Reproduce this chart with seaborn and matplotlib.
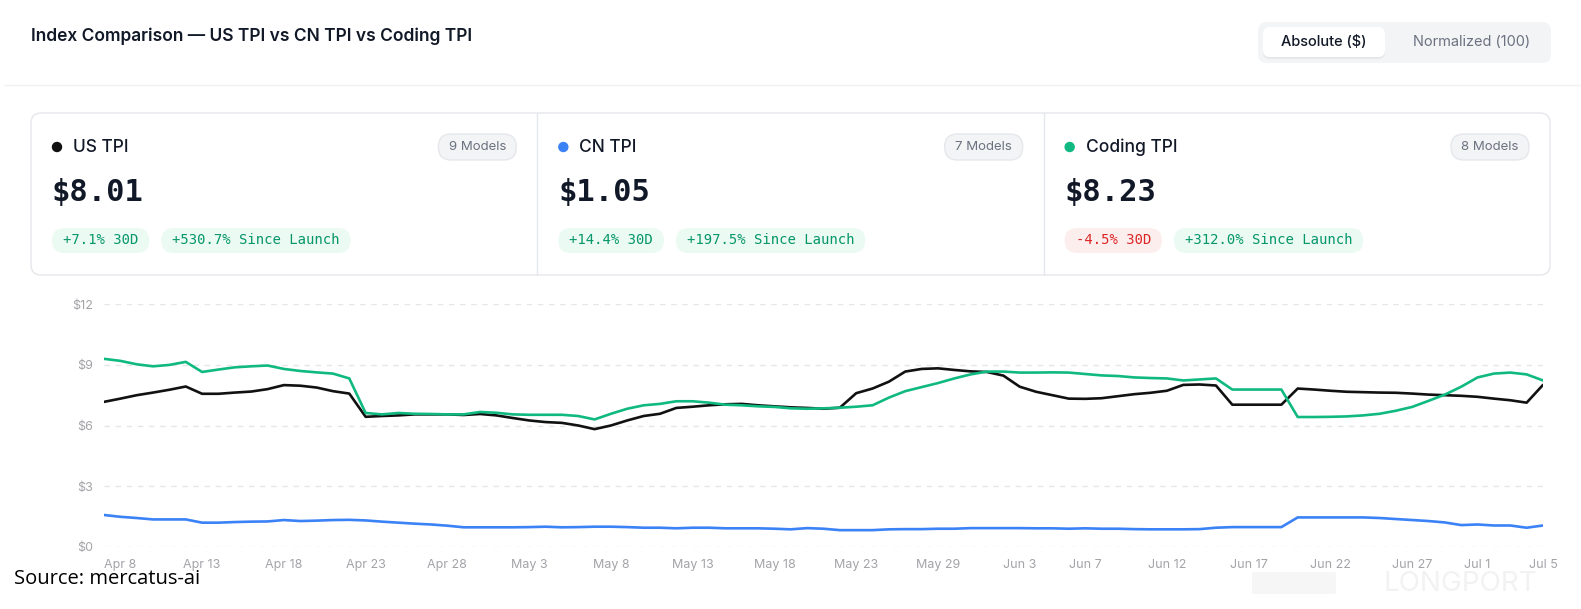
import numpy as np
import pandas as pd
import matplotlib
matplotlib.use("Agg")
import matplotlib.pyplot as plt
from matplotlib.patches import FancyBboxPatch, Circle
import seaborn as sns

# --- values (one point per listed day) ---
us_tpi = [7.17, 7.33, 7.50, 7.63, 7.77, 7.93, 7.57, 7.57, 7.63, 7.68, 7.80, 8.00, 7.97, 7.88, 7.70, 7.58,
          6.43, 6.47, 6.50, 6.55, 6.55, 6.55, 6.52,
          6.57, 6.50, 6.37, 6.25, 6.17, 6.13, 6.00, 5.82, 6.00, 6.25, 6.47, 6.58, 6.87, 6.93, 7.00, 7.05,
          7.07, 7.00, 6.95, 6.90, 6.87, 6.83,
          6.88, 7.60, 7.83, 8.17, 8.67, 8.80, 8.83, 8.75, 8.68, 8.65, 8.47, 7.92, 7.67, 7.50, 7.33, 7.32,
          7.35, 7.45, 7.55, 7.62, 7.72, 8.01,
          8.03, 7.98, 7.03, 7.03, 7.03, 7.03, 7.83, 7.78, 7.72, 7.67, 7.65, 7.63, 7.62, 7.58, 7.53, 7.50,
          7.47, 7.42, 7.33, 7.25, 7.13, 8.01]
cn_tpi = [1.57, 1.48, 1.42, 1.35, 1.35, 1.35, 1.19, 1.19, 1.22, 1.24, 1.25, 1.32, 1.27, 1.29, 1.32, 1.33,
          1.30, 1.24, 1.19, 1.14, 1.10, 1.04, 0.96,
          0.96, 0.96, 0.96, 0.97, 0.99, 0.96, 0.97, 0.99, 0.99, 0.97, 0.94, 0.94, 0.91, 0.94, 0.94, 0.91,
          0.91, 0.91, 0.89, 0.86, 0.92, 0.89,
          0.82, 0.82, 0.82, 0.86, 0.87, 0.87, 0.89, 0.89, 0.92, 0.92, 0.92, 0.92, 0.91, 0.91, 0.89, 0.91,
          0.89, 0.89, 0.87, 0.86, 0.86, 0.86,
          0.87, 0.94, 0.97, 0.97, 0.97, 0.97, 1.45, 1.45, 1.45, 1.45, 1.45, 1.42, 1.37, 1.32, 1.27, 1.20,
          1.07, 1.10, 1.05, 1.05, 0.94, 1.05]
coding_tpi = [9.30, 9.20, 9.03, 8.93, 9.00, 9.15, 8.65, 8.77, 8.88, 8.93, 8.97, 8.80, 8.70, 8.63, 8.57, 8.33,
              6.62, 6.55, 6.62, 6.58, 6.57, 6.55, 6.55,
              6.67, 6.63, 6.55, 6.53, 6.53, 6.53, 6.47, 6.30, 6.58, 6.83, 7.00, 7.07, 7.20, 7.20, 7.13, 7.03,
              7.00, 6.95, 6.92, 6.85, 6.83, 6.85,
              6.88, 6.93, 7.00, 7.38, 7.70, 7.90, 8.10, 8.33, 8.53, 8.67, 8.67, 8.62, 8.62, 8.63, 8.62, 8.55,
              8.48, 8.45, 8.38, 8.35, 8.33, 8.23,
              8.28, 8.33, 7.78, 7.78, 7.78, 7.78, 6.42, 6.42, 6.43, 6.45, 6.50, 6.58, 6.73, 6.92, 7.22, 7.53,
              7.92, 8.38, 8.57, 8.62, 8.53, 8.23]

# one day has no data point in the series
dates = pd.date_range("2025-04-07", "2025-07-05").drop(pd.Timestamp("2025-05-26"))
date_labels = [f"{d:%b} {d.day}" for d in dates]
tick_labels = ["Apr 8", "Apr 13", "Apr 18", "Apr 23", "Apr 28", "May 3", "May 8", "May 13", "May 18",
               "May 23", "May 29", "Jun 3", "Jun 7", "Jun 12", "Jun 17", "Jun 22", "Jun 27", "Jul 1", "Jul 5"]
y_ticks = [0, 3, 6, 9, 12]

series_names = ["US TPI", "CN TPI", "Coding TPI"]
series_colors = ["#111111", "#3b82f6", "#10b981"]
model_counts = ["9 Models", "7 Models", "8 Models"]
latest = ["$8.01", "$1.05", "$8.23"]
change_30d = ["+7.1% 30D", "+14.4% 30D", "-4.5% 30D"]
since_launch = ["+530.7% Since Launch", "+197.5% Since Launch", "+312.0% Since Launch"]

sns.set_style("white")
plt.rcParams["font.family"] = ["Inter", "DejaVu Sans"]

W, H = 1581, 609
fig = plt.figure(figsize=(W / 100, H / 100), dpi=100)
fig.patch.set_facecolor("white")

# pixel-space layer for the header and the cards
bg = fig.add_axes([0, 0, 1, 1])
bg.set_xlim(0, W)
bg.set_ylim(H, 0)
bg.axis("off")


def rbox(x, y, w, h, r, fc, ec="none", lw=0, z=1):
    bg.add_patch(FancyBboxPatch((x, y), w, h, boxstyle=f"round,pad=0,rounding_size={r}",
                                fc=fc, ec=ec, lw=lw, zorder=z))


bg.text(31, 36, "Index Comparison \u2014 US TPI vs CN TPI vs Coding TPI", fontsize=12.5,
        fontweight="semibold", color="#111827", va="center")

# absolute / normalized toggle
rbox(1258, 22, 293, 41, 9, "#f3f4f6")
rbox(1263, 28, 122, 31, 7, "#e5e7eb", z=2)
rbox(1263, 27, 122, 30, 7, "white", z=3)
bg.text(1324, 42, "Absolute ($)", fontsize=10.5, fontweight="medium", color="#111827",
        ha="center", va="center", zorder=4)
bg.text(1472, 42, "Normalized (100)", fontsize=10.5, color="#6b7280", ha="center", va="center")
bg.plot([4, W], [85, 85], color="#f1f1f1", lw=1)

# summary cards
rbox(31, 113, 1519, 162, 10, "white", ec="#e5e7eb", lw=1)
card_w = 1519 / 3
mono = "DejaVu Sans Mono"
char_w = 0.602 * 10 / 0.72
for i in range(3):
    left = 31 + i * card_w
    if i > 0:
        bg.plot([left, left], [113, 275], color="#e5e7eb", lw=1)
    bg.add_patch(Circle((left + 26, 147), 4.5, color=series_colors[i], zorder=3))
    bg.text(left + 42, 147, series_names[i], fontsize=12.5, fontweight="medium",
            color="#111827", va="center")
    right = left + card_w - 21
    rbox(right - 78, 134, 78, 26, 13, "#f3f4f6", ec="#e5e7eb", lw=1)
    bg.text(right - 39, 147, model_counts[i], fontsize=9.5, color="#6b7280", ha="center", va="center")
    bg.text(left + 21, 193, latest[i], fontsize=22, fontweight="bold", family=mono,
            color="#111827", va="center")
    x0 = left + 21
    for label in [change_30d[i], since_launch[i]]:
        neg = label.startswith("-")
        w = len(label) * char_w + 22
        rbox(x0, 228, w, 25, 12.5, "#fdeeee" if neg else "#ebfaf3")
        bg.text(x0 + w / 2, 240.5, label, fontsize=10, family=mono, ha="center", va="center",
                color="#dc2626" if neg else "#059669", zorder=4)
        x0 += w + 12

# chart
ax = fig.add_axes([104 / W, (H - 546.7) / H, (1543 - 104) / W, (546.7 - 304.3) / H])
ax.set_facecolor("none")
n = len(date_labels)
df = pd.DataFrame({
    "idx": np.tile(np.arange(n), 3),
    "value": us_tpi + cn_tpi + coding_tpi,
    "series": np.repeat(series_names, n),
})
sns.lineplot(data=df, x="idx", y="value", hue="series", hue_order=series_names,
             palette=dict(zip(series_names, series_colors)), linewidth=1.9, legend=False, ax=ax)
for v in y_ticks:
    ax.axhline(v, color="#e6e6e6", lw=1, ls=(0, (4, 4)), zorder=0)
ax.set_xlim(0, n - 1)
ax.set_ylim(0, 12)
ax.set_yticks(y_ticks)
ax.set_yticklabels([f"${v}" for v in y_ticks])
ax.set_xticks([date_labels.index(t) for t in tick_labels])
ax.set_xticklabels(tick_labels)
ax.set_xlabel("")
ax.set_ylabel("")
ax.tick_params(length=0, colors="#a3a3a8", labelsize=9)
ax.tick_params(axis="y", pad=8)
ax.tick_params(axis="x", pad=9)
sns.despine(ax=ax, left=True, bottom=True)

# faint watermark, kept below the date labels
rbox(1252, 572, 84, 22, 2, "#f6f6f6", z=0)
bg.text(1460, 584, "LONGPORT", fontsize=20, color="#f2f2f2", ha="center", va="center", zorder=0)
bg.text(14, 579, "Source: mercatus-ai", fontsize=14.5, family="Open Sans", color="black", va="center")

fig.savefig("out.png", dpi=100, facecolor="white")
